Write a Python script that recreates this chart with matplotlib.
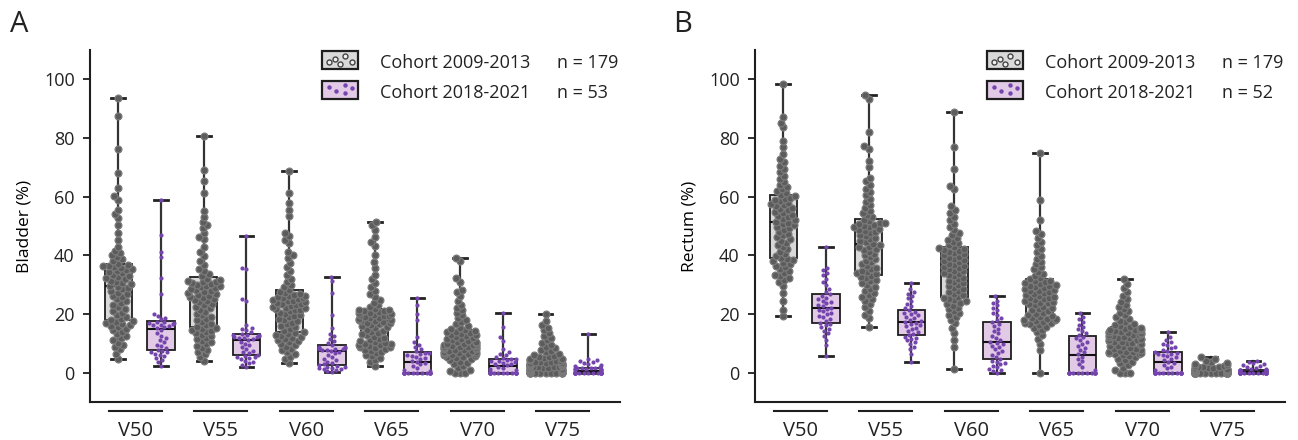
import numpy as np
import matplotlib
matplotlib.use("Agg")
import matplotlib.pyplot as plt
import matplotlib.transforms as mtransforms
from matplotlib.patches import Rectangle
from matplotlib.lines import Line2D

plt.rcParams['font.family'] = ['Open Sans', 'DejaVu Sans']

# ---------------- data (%) ----------------
categories = ['V50', 'V55', 'V60', 'V65', 'V70', 'V75']
cohort_labels = ['Cohort 2009-2013', 'Cohort 2018-2021']
n_bladder = [179, 53]
n_rectum = [179, 52]

bladder_2009_2013 = [
    [4.8, 6.5, 7.9, 8.6, 9.3, 10.2, 11.0, 11.8, 12.5, 13.1, 13.8, 14.4, 15.0, 15.6, 16.0, 16.3, 16.7, 17.0, 17.3, 17.6,
     17.9, 18.4, 19.0, 19.6, 20.3, 21.0, 21.6, 22.3, 23.0, 23.8, 24.4, 25.1, 25.7, 26.2, 26.8, 27.3, 27.9, 28.4, 28.9, 29.3,
     29.6, 30.1, 30.5, 31.0, 31.4, 31.9, 32.2, 32.7, 33.0, 33.4, 33.9, 34.2, 34.6, 35.0, 35.3, 35.7, 36.0, 36.2, 36.5, 36.7,
     37.2, 37.9, 38.6, 39.4, 40.1, 40.8, 41.5, 43.0, 45.2, 47.6, 50.3, 52.8, 54.1, 55.4, 59.0, 60.2, 63.1, 68.0, 76.2, 87.6, 93.7],
    [4.0, 5.3, 6.2, 7.0, 7.8, 8.4, 9.1, 9.7, 10.3, 10.8, 11.4, 11.9, 12.5, 13.0, 13.5, 13.9, 14.3, 14.6, 14.9, 15.2,
     15.6, 16.1, 16.7, 17.3, 17.8, 18.4, 19.0, 19.5, 20.1, 20.8, 21.4, 21.9, 22.5, 23.0, 23.5, 24.0, 24.4, 24.8, 25.2, 25.5,
     25.8, 26.1, 26.4, 26.8, 27.1, 27.5, 27.8, 28.1, 28.5, 28.8, 29.1, 29.4, 29.7, 30.0, 30.3, 30.6, 30.8, 31.0, 31.3, 31.5,
     32.0, 32.8, 33.7, 34.6, 35.5, 36.8, 38.0, 39.9, 41.2, 43.0, 45.4, 46.3, 47.5, 49.3, 50.4, 51.2, 53.1, 55.0, 61.2, 65.3, 69.2, 80.6],
    [3.4, 4.6, 5.5, 6.3, 7.0, 7.6, 8.2, 8.8, 9.3, 9.8, 10.3, 10.7, 11.1, 11.5, 11.9, 12.3, 12.6, 12.9, 13.2, 13.4,
     13.8, 14.3, 14.9, 15.4, 15.9, 16.5, 17.0, 17.5, 18.0, 18.4, 18.9, 19.3, 19.7, 20.1, 20.5, 20.9, 21.2, 21.5, 21.8, 22.0,
     22.2, 22.5, 22.8, 23.0, 23.3, 23.5, 23.8, 24.0, 24.3, 24.5, 24.8, 25.0, 25.3, 25.5, 25.8, 26.0, 26.3, 26.6, 26.9, 27.1,
     27.6, 28.3, 29.1, 30.0, 31.0, 32.1, 33.2, 34.6, 36.0, 37.3, 39.0, 40.1, 41.0, 44.2, 45.3, 46.7, 47.6, 53.5, 55.6, 58.0, 61.2, 68.8],
    [2.4, 3.5, 4.3, 5.0, 5.6, 6.1, 6.6, 7.0, 7.4, 7.8, 8.1, 8.4, 8.7, 8.9, 9.1, 9.3, 9.5, 9.7, 9.9, 10.0,
     10.3, 10.7, 11.1, 11.5, 11.9, 12.3, 12.7, 13.1, 13.5, 13.9, 14.3, 14.7, 15.1, 15.5, 15.8, 16.2, 16.5, 16.8, 17.1, 17.3,
     17.5, 17.7, 17.9, 18.1, 18.3, 18.6, 18.8, 19.0, 19.2, 19.4, 19.6, 19.8, 20.0, 20.3, 20.5, 20.7, 20.9, 21.1, 21.3, 21.4,
     21.8, 22.4, 23.1, 23.9, 24.8, 25.7, 26.8, 27.9, 29.2, 30.6, 32.1, 33.4, 35.8, 37.6, 40.1, 43.2, 44.5, 46.1, 48.6, 50.2, 51.3],
    [0.0, 0.0, 0.0, 0.4, 1.0, 1.6, 2.2, 2.8, 3.3, 3.8, 4.2, 4.6, 5.0, 5.3, 5.5, 5.7, 5.9, 6.1, 6.3, 6.4,
     6.6, 6.8, 7.0, 7.2, 7.3, 7.5, 7.7, 7.8, 8.0, 8.2, 8.3, 8.5, 8.6, 8.8, 8.9, 9.0, 9.2, 9.3, 9.4, 9.5,
     9.7, 9.9, 10.1, 10.4, 10.6, 10.9, 11.1, 11.4, 11.6, 11.9, 12.2, 12.4, 12.7, 12.9, 13.2, 13.5, 13.7, 14.0, 14.2, 14.4,
     14.8, 15.3, 15.9, 16.5, 17.2, 17.9, 18.6, 19.5, 20.4, 21.3, 22.2, 23.1, 24.5, 26.1, 27.6, 28.3, 30.9, 32.2, 38.0, 39.1],
    [0.0, 0.0, 0.0, 0.0, 0.0, 0.0, 0.0, 0.0, 0.0, 0.0, 0.0, 0.0, 0.1, 0.2, 0.3, 0.4, 0.5, 0.6, 0.7, 0.9,
     1.0, 1.1, 1.2, 1.3, 1.4, 1.5, 1.6, 1.7, 1.8, 1.9, 2.0, 2.1, 2.2, 2.3, 2.3, 2.4, 2.4, 2.5, 2.5, 2.6,
     2.7, 2.8, 2.9, 3.0, 3.1, 3.2, 3.3, 3.4, 3.5, 3.6, 3.8, 3.9, 4.0, 4.2, 4.3, 4.5, 4.6, 4.8, 5.0, 5.2,
     5.5, 5.8, 6.1, 6.5, 6.9, 7.3, 7.8, 8.3, 8.9, 9.5, 10.2, 11.0, 11.8, 12.6, 13.5, 14.4, 15.3, 16.1, 17.5, 19.9],
]

bladder_2018_2021 = [
    [2.4, 3.5, 4.3, 5.0, 5.6, 6.1, 6.5, 6.9, 7.1, 7.4, 7.8, 8.5, 9.2, 9.6, 10.3, 11.0, 11.8, 12.6, 13.5, 14.6,
     15.3, 15.6, 15.9, 16.2, 16.4, 16.6, 16.8, 17.0, 17.2, 17.4, 18.2, 18.8, 19.4, 19.9, 26.9, 32.3, 39.6, 41.2, 47.1, 58.9],
    [1.9, 2.6, 3.2, 3.7, 4.1, 4.5, 4.9, 5.2, 5.5, 5.7, 6.1, 6.6, 7.0, 7.5, 8.1, 8.7, 9.3, 9.9, 10.5, 11.1,
     11.5, 11.7, 11.9, 12.1, 12.3, 12.5, 12.7, 12.8, 13.0, 13.1, 13.8, 14.5, 15.0, 15.3, 16.4, 24.6, 25.1, 35.2, 35.8, 46.5],
    [0.1, 0.5, 0.8, 1.1, 1.3, 1.5, 1.7, 1.9, 2.1, 2.3, 2.6, 2.9, 3.3, 3.7, 4.2, 4.8, 5.4, 6.0, 6.6, 7.1,
     7.5, 7.6, 7.8, 7.9, 8.1, 8.2, 8.4, 8.5, 8.7, 8.8, 9.4, 10.1, 10.8, 11.6, 12.5, 13.2, 15.1, 19.8, 27.0, 31.2, 32.7],
    [0.0, 0.0, 0.0, 0.0, 0.0, 0.0, 0.0, 0.0, 0.0, 0.0, 0.0, 0.0, 0.0, 0.0, 0.5, 1.0, 1.6, 2.2, 2.8, 3.3,
     3.7, 4.1, 4.6, 5.0, 5.4, 5.8, 6.1, 6.4, 6.6, 6.8, 7.4, 8.1, 8.9, 9.6, 10.4, 12.2, 17.9, 20.1, 23.0, 25.3],
    [0.0, 0.0, 0.0, 0.0, 0.0, 0.0, 0.0, 0.0, 0.0, 0.0, 0.0, 0.0, 0.0, 0.0, 0.0, 0.4, 0.9, 1.3, 1.7, 2.1,
     2.5, 2.8, 3.1, 3.4, 3.7, 3.9, 4.1, 4.3, 4.5, 4.6, 5.0, 5.4, 5.9, 6.4, 7.1, 8.0, 10.9, 12.1, 15.6, 20.3],
    [0.0, 0.0, 0.0, 0.0, 0.0, 0.0, 0.0, 0.0, 0.0, 0.0, 0.0, 0.0, 0.0, 0.0, 0.0, 0.0, 0.0, 0.0, 0.2, 0.5,
     0.9, 1.0, 1.1, 1.2, 1.3, 1.4, 1.5, 1.5, 1.6, 1.6, 2.0, 2.3, 2.7, 3.0, 3.3, 3.6, 3.9, 4.2, 4.6, 13.3],
]

rectum_2009_2013 = [
    [19.4, 21.2, 24.5, 27.3, 29.6, 30.8, 31.7, 32.3, 32.9, 33.4, 34.0, 34.6, 35.3, 35.9, 36.5, 37.0, 37.5, 37.9, 38.3, 38.7,
     39.2, 39.8, 40.5, 41.3, 42.1, 42.9, 43.6, 44.3, 45.0, 45.6, 46.2, 46.8, 47.4, 48.0, 48.6, 49.2, 49.7, 50.2, 50.6, 51.0,
     51.4, 51.9, 52.4, 52.9, 53.4, 53.9, 54.3, 54.8, 55.3, 55.8, 56.3, 56.7, 57.2, 57.6, 58.0, 58.5, 58.9, 59.3, 59.7, 60.1,
     60.6, 61.2, 61.9, 62.5, 63.3, 64.1, 65.0, 66.0, 67.1, 68.3, 69.5, 70.6, 71.8, 72.9, 74.6, 76.8, 79.1, 83.6, 85.2, 87.0, 98.4],
    [15.7, 18.6, 19.8, 21.0, 22.4, 23.5, 24.3, 25.1, 25.8, 26.5, 27.2, 27.9, 28.6, 29.3, 29.9, 30.5, 31.1, 31.6, 32.2, 32.7,
     33.1, 33.5, 33.9, 34.3, 34.8, 35.3, 35.8, 36.4, 37.0, 37.6, 38.2, 38.8, 39.4, 40.0, 40.6, 41.2, 41.8, 42.3, 42.7, 43.0,
     43.5, 44.0, 44.5, 45.0, 45.5, 46.0, 46.5, 47.0, 47.5, 47.9, 48.3, 48.7, 49.1, 49.5, 49.8, 50.1, 50.4, 50.7, 50.9, 51.1,
     51.6, 52.2, 52.9, 53.6, 54.3, 55.2, 56.1, 57.0, 58.1, 59.3, 60.4, 61.6, 62.7, 63.9, 65.2, 66.3, 70.1, 72.2, 76.4, 77.3, 82.1, 93.2, 94.5],
    [1.3, 8.7, 11.2, 13.6, 15.3, 16.8, 17.9, 18.9, 19.6, 20.3, 21.0, 21.6, 22.2, 22.8, 23.3, 23.8, 24.3, 24.7, 25.1, 25.4,
     25.9, 26.4, 26.9, 27.4, 27.9, 28.4, 28.9, 29.4, 29.9, 30.4, 30.9, 31.4, 31.9, 32.4, 32.9, 33.3, 33.7, 34.1, 34.5, 34.8,
     35.2, 35.6, 36.0, 36.4, 36.8, 37.2, 37.6, 38.0, 38.4, 38.8, 39.2, 39.6, 40.0, 40.4, 40.8, 41.2, 41.6, 41.9, 42.2, 42.4,
     42.9, 43.5, 44.1, 44.7, 45.3, 46.0, 46.8, 47.6, 48.5, 49.6, 50.8, 52.0, 53.2, 54.5, 55.6, 56.8, 62.6, 63.5, 69.4, 77.1, 89.0],
    [0.0, 7.6, 9.9, 11.6, 12.8, 13.8, 14.6, 15.2, 15.7, 16.1, 16.5, 16.8, 17.1, 17.4, 17.6, 17.8, 18.0, 18.2, 18.4, 18.6,
     18.9, 19.3, 19.7, 20.1, 20.5, 20.9, 21.3, 21.7, 22.1, 22.5, 22.9, 23.3, 23.6, 23.9, 24.2, 24.5, 24.8, 25.1, 25.4, 25.6,
     25.9, 26.2, 26.5, 26.8, 27.1, 27.4, 27.7, 28.0, 28.3, 28.6, 28.9, 29.2, 29.5, 29.7, 30.0, 30.3, 30.6, 30.9, 31.1, 31.3,
     31.8, 32.4, 33.0, 33.7, 34.4, 35.2, 36.0, 36.9, 37.8, 38.8, 39.9, 41.0, 42.2, 43.4, 44.6, 46.0, 47.4, 48.3, 52.1, 58.9, 74.9],
    [0.0, 0.0, 0.0, 0.8, 1.7, 2.5, 3.2, 3.8, 4.3, 4.8, 5.2, 5.6, 5.9, 6.2, 6.4, 6.6, 6.8, 6.9, 7.1, 7.2,
     7.4, 7.7, 8.0, 8.2, 8.5, 8.7, 9.0, 9.2, 9.5, 9.7, 10.0, 10.2, 10.4, 10.6, 10.8, 11.0, 11.2, 11.4, 11.5, 11.7,
     11.9, 12.1, 12.3, 12.5, 12.7, 12.9, 13.0, 13.2, 13.4, 13.5, 13.7, 13.9, 14.0, 14.2, 14.4, 14.5, 14.7, 14.8, 15.0, 15.1,
     15.4, 15.8, 16.2, 16.7, 17.2, 17.7, 18.3, 18.9, 19.5, 20.2, 20.9, 21.6, 22.4, 23.2, 24.1, 25.0, 26.2, 27.4, 28.9, 30.3, 31.9],
    [0.0, 0.0, 0.0, 0.0, 0.0, 0.0, 0.0, 0.0, 0.0, 0.0, 0.0, 0.0, 0.0, 0.0, 0.0, 0.0, 0.0, 0.0, 0.0, 0.0,
     0.0, 0.0, 0.0, 0.0, 0.0, 0.0, 0.0, 0.0, 0.0, 0.0, 0.0, 0.0, 0.0, 0.0, 0.0, 0.0, 0.1, 0.1, 0.2, 0.2,
     0.2, 0.3, 0.3, 0.3, 0.4, 0.4, 0.5, 0.5, 0.5, 0.6, 0.6, 0.7, 0.7, 0.7, 0.8, 0.8, 0.8, 0.9, 0.9, 0.9,
     1.0, 1.1, 1.2, 1.3, 1.4, 1.5, 1.6, 1.7, 1.8, 1.9, 2.0, 2.2, 2.4, 2.6, 2.9, 3.2, 3.6, 4.1, 4.6, 5.2],
]

rectum_2018_2021 = [
    [5.6, 9.4, 11.2, 12.6, 13.5, 14.3, 15.0, 15.6, 16.1, 16.6, 17.1, 17.7, 18.3, 18.9, 19.4, 19.9, 20.4, 20.9, 21.4, 21.8,
     22.1, 22.6, 23.1, 23.6, 24.1, 24.6, 25.1, 25.6, 26.2, 26.7, 27.5, 28.6, 29.8, 31.0, 32.1, 33.2, 34.1, 35.0, 35.8, 42.7],
    [3.8, 6.4, 7.9, 8.9, 9.7, 10.4, 11.0, 11.5, 11.9, 12.3, 12.8, 13.3, 13.8, 14.3, 14.8, 15.3, 15.8, 16.2, 16.6, 17.0,
     17.3, 17.7, 18.1, 18.6, 19.0, 19.5, 19.9, 20.3, 20.8, 21.2, 21.9, 22.6, 23.4, 24.3, 25.3, 26.2, 26.9, 27.6, 28.4, 30.5],
    [0.0, 0.5, 0.9, 1.4, 1.8, 2.3, 2.8, 3.2, 3.7, 4.1, 4.7, 5.4, 6.1, 6.8, 7.4, 8.0, 8.6, 9.2, 9.7, 10.2,
     10.5, 11.2, 11.9, 12.6, 13.4, 14.2, 15.0, 15.8, 16.5, 17.2, 17.9, 18.7, 19.5, 20.3, 21.2, 22.0, 22.9, 23.7, 24.6, 26.0],
    [0.0, 0.0, 0.0, 0.0, 0.0, 0.0, 0.0, 0.0, 0.0, 0.0, 0.0, 0.0, 0.0, 0.0, 0.9, 2.1, 3.0, 3.9, 4.7, 5.5,
     6.3, 7.0, 7.8, 8.5, 9.2, 9.9, 10.6, 11.2, 11.8, 12.3, 12.9, 13.5, 14.1, 14.8, 15.6, 16.4, 17.3, 18.2, 19.1, 20.3],
    [0.0, 0.0, 0.0, 0.0, 0.0, 0.0, 0.0, 0.0, 0.0, 0.0, 0.0, 0.0, 0.0, 0.0, 0.0, 0.8, 1.5, 2.1, 2.7, 3.2,
     3.8, 4.3, 4.8, 5.2, 5.6, 5.9, 6.2, 6.5, 6.7, 6.9, 7.3, 7.8, 8.3, 8.8, 9.3, 9.8, 10.4, 11.1, 12.0, 13.7],
    [0.0, 0.0, 0.0, 0.0, 0.0, 0.0, 0.0, 0.0, 0.0, 0.0, 0.0, 0.0, 0.0, 0.0, 0.0, 0.0, 0.0, 0.0, 0.1, 0.2,
     0.4, 0.5, 0.6, 0.7, 0.8, 0.8, 0.9, 0.9, 1.0, 1.0, 1.2, 1.4, 1.6, 1.9, 2.2, 2.5, 2.8, 3.2, 3.6, 4.0],
]

# ---------------- style ----------------
GRAY_OFF, PURP_OFF = -0.2, 0.3
BOX_W = 0.32
GRAY_BOX, PURP_BOX = '#d9d9d9', '#e2cae7'
GRAY_PT, GRAY_PT_EDGE = '#5c5c5c', '#7a7a7a'
PURP_PT = '#7445ad'
INK = '#1e1e1e'

fig = plt.figure(figsize=(12.98, 4.4), dpi=100)
axA = fig.add_axes([90 / 1298, 38 / 440, 530 / 1298, 352 / 440])
axB = fig.add_axes([755 / 1298, 38 / 440, 530 / 1298, 352 / 440])


def swarm_x(ax, center, values, d_px, half_px):
    """Beeswarm layout (in display pixels) around a category position."""
    vals = np.asarray(values, dtype=float)
    pts = ax.transData.transform(np.column_stack([np.full(len(vals), center), vals]))
    cx = pts[0, 0]
    ypx = pts[:, 1]
    order = np.argsort(ypx, kind='stable')
    px_list, py_list = [], []
    offs = np.zeros(len(vals))
    for idx in order:
        yi = ypx[idx]
        if px_list:
            px = np.array(px_list)
            py = np.array(py_list)
            near = np.abs(py - yi) < d_px
            nx, ny = px[near], py[near]
        else:
            nx = ny = np.array([])
        cands = [0.0]
        for xj, yj in zip(nx, ny):
            dx = np.sqrt(max(d_px ** 2 - (yi - yj) ** 2, 0.0))
            cands += [xj + dx, xj - dx]
        cands.sort(key=lambda c: (abs(c), c))
        chosen = cands[-1]
        for c in cands:
            if np.all((nx - c) ** 2 + (ny - yi) ** 2 >= d_px ** 2 - 1e-6):
                chosen = c
                break
        px_list.append(chosen)
        py_list.append(yi)
        offs[idx] = chosen
    offs = np.clip(offs, -half_px, half_px)
    xd = ax.transData.inverted().transform(np.column_stack([cx + offs, ypx]))[:, 0]
    return xd, vals


def draw_panel(ax, old, new, ylabel, n_vals):
    pos = np.arange(len(categories))
    ax.set_xlim(-0.53, 5.67)
    ax.set_ylim(-10, 110)

    for data, off, face in [(old, GRAY_OFF, GRAY_BOX), (new, PURP_OFF, PURP_BOX)]:
        ax.boxplot(data, positions=pos + off, widths=BOX_W, whis=(0, 100),
                   patch_artist=True, showfliers=False, capwidths=0.16,
                   manage_ticks=False, zorder=2,
                   boxprops=dict(facecolor=face, edgecolor=INK, linewidth=1.3),
                   medianprops=dict(color='#111111', linewidth=1.5),
                   whiskerprops=dict(color='#333333', linewidth=1.6),
                   capprops=dict(color='#222222', linewidth=2.0))

    for i in pos:
        xg, yg = swarm_x(ax, i + GRAY_OFF, old[i], 5.3, 16)
        ax.scatter(xg, yg, s=24, c=GRAY_PT, edgecolors=GRAY_PT_EDGE,
                   linewidths=0.9, zorder=3)
        xp, yp = swarm_x(ax, i + PURP_OFF, new[i], 4.6, 13)
        ax.scatter(xp, yp, s=9, c=PURP_PT, linewidths=0, zorder=4)

    ax.set_xlim(-0.53, 5.67)
    ax.set_ylim(-10, 110)
    ax.set_yticks(range(0, 101, 20))
    ax.set_xticks(pos)
    ax.set_xticklabels(categories)
    ax.set_ylabel(ylabel, fontsize=12.5, labelpad=8)
    for s in ['top', 'right']:
        ax.spines[s].set_visible(False)
    for s in ['left', 'bottom']:
        ax.spines[s].set_linewidth(1.5)
        ax.spines[s].set_color(INK)
    ax.tick_params(axis='y', direction='out', length=5, width=1.3, labelsize=13,
                   pad=6, color=INK, labelcolor='#222222')
    ax.tick_params(axis='x', length=0, labelsize=14.5, pad=14, labelcolor='#222222')

    # group underlines
    trans = mtransforms.blended_transform_factory(ax.transData, ax.transAxes)
    for i in pos:
        ax.plot([i - 0.31, i + 0.31], [-0.026, -0.026], transform=trans,
                color=INK, lw=1.5, clip_on=False)

    # legend
    w, h = 36 / 530, 18 / 352
    x0 = 0.438
    dots_x = [np.array([0.18, 0.36, 0.5, 0.64, 0.82]), np.array([0.18, 0.39, 0.64, 0.64, 0.82])]
    dots_y = [np.array([0.36, 0.54, 0.26, 0.74, 0.40]), np.array([0.67, 0.45, 0.78, 0.33, 0.60])]
    styles = [dict(mfc='#f0f0f0', mec='#444444', mew=1.0, ms=3.6),
              dict(mfc=PURP_PT, mec=PURP_PT, mew=0, ms=3.2)]
    faces = [GRAY_BOX, PURP_BOX]
    centers = [0.972, 0.886]
    for k in range(2):
        yc = centers[k]
        ax.add_patch(Rectangle((x0, yc - h / 2), w, h, transform=ax.transAxes,
                               facecolor=faces[k], edgecolor=INK, lw=1.6,
                               clip_on=False, zorder=5))
        ax.add_line(Line2D(x0 + dots_x[k] * w, yc - h / 2 + dots_y[k] * h,
                           transform=ax.transAxes, ls='none', marker='o',
                           clip_on=False, zorder=6, **styles[k]))
        ax.text(0.547, yc - 0.008, cohort_labels[k], transform=ax.transAxes,
                fontsize=13, va='center', ha='left', color='#222222')
        ax.text(0.881, yc - 0.008, f'n = {n_vals[k]}', transform=ax.transAxes,
                fontsize=13, va='center', ha='left', color='#222222')


draw_panel(axA, bladder_2009_2013, bladder_2018_2021, 'Bladder (%)', n_bladder)
draw_panel(axB, rectum_2009_2013, rectum_2018_2021, 'Rectum (%)', n_rectum)

fig.text(19 / 1298, 1 - 25 / 440, 'A', fontsize=21, ha='center', va='center', color='#222222')
fig.text(683 / 1298, 1 - 25 / 440, 'B', fontsize=21, ha='center', va='center', color='#222222')

fig.savefig('out.png', dpi=100)
